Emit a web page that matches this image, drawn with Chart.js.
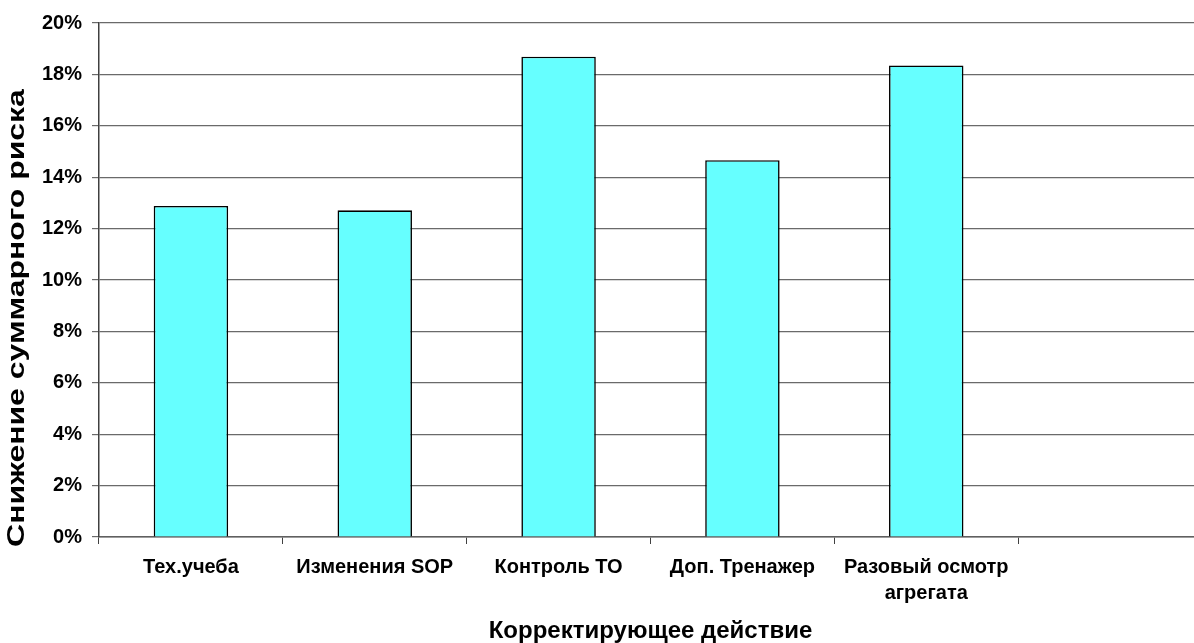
<!DOCTYPE html>
<html><head><meta charset="utf-8">
<script src="https://cdn.jsdelivr.net/npm/chart.js@4.4.1/dist/chart.umd.min.js"></script>
<style>html,body{margin:0;padding:0;overflow:hidden;background:#fff;width:1194px;height:643px}canvas{display:block}</style>
</head><body>
<canvas id="c" width="1203" height="643"></canvas>
<script>
const categories = ['Тех.учеба', 'Изменения SOP', 'Контроль ТО', 'Доп. Тренажер', ['Разовый осмотр', 'агрегата'], ''];
const values = [12.88, 12.71, 18.69, 14.66, 18.35, null];
const yMin = 0, yMax = 20, yStep = 2;
const xTitle = 'Корректирующее действие';
const yTitle = 'Снижение суммарного риска';

const FONT = '"Liberation Sans", Arial, sans-serif';

const yTitlePlugin = {
  id: 'yTitlePlugin',
  afterDraw(chart) {
    const ctx = chart.ctx;
    ctx.save();
    ctx.translate(18, 318);
    ctx.rotate(-Math.PI / 2);
    ctx.scale(1.36, 1);
    ctx.font = 'bold 23.5px ' + FONT;
    ctx.fillStyle = '#000';
    ctx.textAlign = 'center';
    ctx.textBaseline = 'middle';
    ctx.fillText(yTitle, 0, 0);
    ctx.restore();
  }
};

new Chart(document.getElementById('c'), {
  type: 'bar',
  data: {
    labels: categories,
    datasets: [{
      data: values,
      backgroundColor: '#66FFFF',
      borderColor: '#000',
      borderWidth: 1.6,
      borderSkipped: 'bottom',
      barPercentage: 0.405,
      categoryPercentage: 1.0
    }]
  },
  options: {
    responsive: false,
    animation: false,
    devicePixelRatio: 1,
    layout: { padding: { top: 23, right: 1, left: 0, bottom: 0 } },
    plugins: { legend: { display: false }, tooltip: { enabled: false } },
    scales: {
      x: {
        offset: true,
        grid: { display: true, drawOnChartArea: false, drawTicks: true, tickLength: 7, offset: true, color: '#404040', lineWidth: 1 },
        border: { display: true, color: '#606060', width: 1.5 },
        ticks: { color: '#000', font: { family: FONT, size: 20, weight: 'bold', lineHeight: 1.3 }, padding: 10, maxRotation: 0, autoSkip: false },
        title: { display: true, text: xTitle, color: '#000', font: { family: FONT, size: 24, weight: 'bold', lineHeight: 1.0 }, padding: { top: 10, bottom: 0 } },
        afterFit(scale) { scale.height = 643 - 537; }
      },
      y: {
        min: yMin, max: yMax,
        grid: { color: '#6a6a6a', lineWidth: 1.2, tickLength: 7, drawTicks: true },
        border: { display: true, color: '#404040', width: 1.5 },
        ticks: { stepSize: yStep, color: '#000', font: { family: FONT, size: 20, weight: 'bold' }, padding: 10, callback: v => v + '%' },
        afterFit(scale) { scale.width = 99; }
      }
    }
  },
  plugins: [yTitlePlugin]
});
</script>
</body></html>
